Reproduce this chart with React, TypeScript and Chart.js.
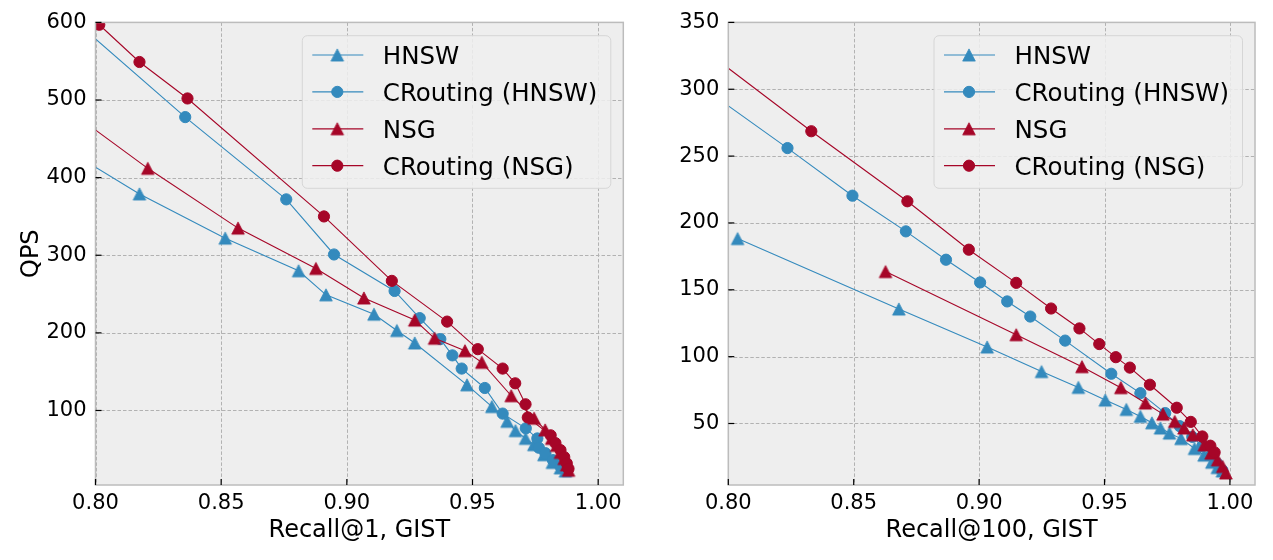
import React, { useEffect, useRef } from 'react';
import { Chart, registerables } from 'chart.js';

Chart.register(...registerables);

const FONT = "'DejaVu Sans', 'Liberation Sans', sans-serif";
const BLUE = '#348ABD';
const RED = '#A60628';

const seriesNames = ['HNSW', 'CRouting (HNSW)', 'NSG', 'CRouting (NSG)'];

// ---- Recall@1, GIST ----
const r1HnswRecall = [0.785, 0.8175, 0.8516, 0.8808, 0.8917, 0.9108, 0.9199, 0.927, 0.9478, 0.9577, 0.9638, 0.9671, 0.9711, 0.9744, 0.9784, 0.9818, 0.985, 0.987];
const r1HnswQps = [443, 379, 322, 280, 249, 224, 203, 187, 133, 105, 86, 74, 64, 56, 43, 33, 26, 22];

const r1CrHnswRecall = [0.79, 0.8357, 0.8759, 0.8949, 0.919, 0.929, 0.9372, 0.942, 0.9457, 0.9549, 0.962, 0.9712, 0.9758, 0.9764, 0.979, 0.982, 0.985];
const r1CrHnswQps = [607, 478, 372, 301, 254, 219, 192, 171, 154, 129, 96, 77, 64, 52, 45, 36, 28];

const r1NsgRecall = [0.79, 0.8208, 0.8567, 0.8877, 0.9068, 0.927, 0.9349, 0.947, 0.9537, 0.9654, 0.9745, 0.9789, 0.9815, 0.9835, 0.985, 0.9865, 0.9875, 0.9882];
const r1NsgQps = [485, 412, 335, 283, 245, 216.5, 193, 177, 162, 119, 90, 75, 64, 55, 46, 38, 30, 23];

const r1CrNsgRecall = [0.8015, 0.8175, 0.8366, 0.8909, 0.9179, 0.9399, 0.9521, 0.962, 0.967, 0.9711, 0.972, 0.9811, 0.983, 0.985, 0.9865, 0.9875, 0.9882];
const r1CrNsgQps = [597, 549, 502, 350, 267, 214.5, 179, 154, 135, 108, 91, 68, 58, 49, 40, 32, 25];

// ---- Recall@100, GIST ----
const r100HnswRecall = [0.8037, 0.868, 0.9032, 0.9249, 0.9396, 0.9503, 0.9587, 0.9643, 0.9689, 0.9723, 0.9759, 0.9805, 0.9859, 0.9897, 0.9928, 0.995, 0.997];
const r100HnswQps = [188.3, 135.6, 107.2, 88.8, 77, 67.5, 60.5, 55.3, 50.5, 46.6, 42.8, 38.7, 31.3, 26.3, 21, 17, 14.5];

const r100CrHnswRecall = [0.79, 0.8236, 0.8495, 0.8708, 0.8868, 0.9004, 0.9112, 0.9204, 0.9343, 0.9527, 0.9643, 0.9742, 0.98, 0.985, 0.989, 0.9925, 0.995, 0.997];
const r100CrHnswQps = [301, 256, 220.4, 193.7, 172.5, 155.5, 141.3, 130, 112, 87.2, 72.7, 57.8, 48, 40, 33, 26, 20, 15];

const r100NsgRecall = [0.8627, 0.9148, 0.941, 0.9565, 0.9663, 0.9733, 0.978, 0.9817, 0.9852, 0.9898, 0.9925, 0.9951, 0.9971, 0.9984];
const r100NsgQps = [163.6, 116.4, 92.5, 76.8, 65.3, 57, 51.5, 46.6, 41.5, 34, 27.8, 22.8, 17.8, 13];

const r100CrNsgRecall = [0.79, 0.8331, 0.8714, 0.8959, 0.9148, 0.9287, 0.94, 0.9479, 0.9545, 0.9601, 0.9681, 0.9788, 0.9844, 0.989, 0.9922, 0.9939];
const r100CrNsgQps = [330, 268.6, 216.2, 180, 155.2, 136, 121.1, 109.4, 99.6, 91.8, 79, 61.8, 51.2, 40.3, 33.4, 28.4];

// ---- axes ----
const recallTicks = [0.8, 0.85, 0.9, 0.95, 1.0];
const qpsTicksR1 = [100, 200, 300, 400, 500, 600];
const qpsTicksR100 = [50, 100, 150, 200, 250, 300, 350];

type Marker = 'tri' | 'circle';
const seriesColors = [BLUE, BLUE, RED, RED];
const seriesMarkers: Marker[] = ['tri', 'circle', 'tri', 'circle'];

const CIRCLE_R = 5.6;

function triangleImage(color: string): HTMLCanvasElement {
  const c = document.createElement('canvas');
  c.width = 18;
  c.height = 18;
  const g = c.getContext('2d')!;
  g.beginPath();
  g.moveTo(9, 9 - 6.1);
  g.lineTo(9 - 6.3, 9 + 6.1);
  g.lineTo(9 + 6.3, 9 + 6.1);
  g.closePath();
  g.fillStyle = color;
  g.fill();
  g.strokeStyle = color;
  g.lineWidth = 0.8;
  g.lineJoin = 'miter';
  g.stroke();
  return c;
}

interface PanelCfg {
  xs: number[][];
  ys: number[][];
  yMax: number;
  yTicks: number[];
  xTitle: string;
  yTitle?: string;
  yAxisWidth: number;
  padRight: number;
}

function makeDecor(cfg: PanelCfg, tris: Record<string, HTMLCanvasElement>) {
  return {
    id: 'panelDecor',
    beforeDatasetsDraw(chart: any) {
      const { ctx, chartArea: a, scales } = chart;
      ctx.save();
      ctx.fillStyle = '#eeeeee';
      ctx.fillRect(a.left, a.top, a.right - a.left, a.bottom - a.top);
      ctx.strokeStyle = '#b2b2b2';
      ctx.lineWidth = 1;
      ctx.setLineDash([3.5, 2]);
      for (const v of recallTicks) {
        const px = Math.round(scales.x.getPixelForValue(v)) + 0.5;
        ctx.beginPath();
        ctx.moveTo(px, a.top);
        ctx.lineTo(px, a.bottom);
        ctx.stroke();
      }
      for (const v of cfg.yTicks) {
        const py = Math.round(scales.y.getPixelForValue(v)) + 0.5;
        ctx.beginPath();
        ctx.moveTo(a.left, py);
        ctx.lineTo(a.right, py);
        ctx.stroke();
      }
      ctx.restore();
    },
    afterDatasetsDraw(chart: any) {
      const { ctx, chartArea: a, scales } = chart;
      ctx.save();
      // frame
      ctx.strokeStyle = '#bcbcbc';
      ctx.lineWidth = 1.5;
      ctx.strokeRect(a.left, a.top, a.right - a.left, a.bottom - a.top);
      // inward tick marks
      ctx.strokeStyle = '#000';
      ctx.lineWidth = 1.2;
      for (const v of recallTicks) {
        const px = scales.x.getPixelForValue(v);
        ctx.beginPath();
        ctx.moveTo(px, a.bottom);
        ctx.lineTo(px, a.bottom - 6);
        ctx.stroke();
      }
      for (const v of cfg.yTicks) {
        const py = scales.y.getPixelForValue(v);
        ctx.beginPath();
        ctx.moveTo(a.left, py);
        ctx.lineTo(a.left + 6, py);
        ctx.stroke();
      }
      // legend
      const boxW = 308.5;
      const boxH = 152.6;
      const bx = a.right - 12.5 - boxW;
      const by = a.top + 13.3;
      const r = 5;
      ctx.beginPath();
      ctx.moveTo(bx + r, by);
      ctx.lineTo(bx + boxW - r, by);
      ctx.arcTo(bx + boxW, by, bx + boxW, by + r, r);
      ctx.lineTo(bx + boxW, by + boxH - r);
      ctx.arcTo(bx + boxW, by + boxH, bx + boxW - r, by + boxH, r);
      ctx.lineTo(bx + r, by + boxH);
      ctx.arcTo(bx, by + boxH, bx, by + boxH - r, r);
      ctx.lineTo(bx, by + r);
      ctx.arcTo(bx, by, bx + r, by, r);
      ctx.closePath();
      ctx.fillStyle = 'rgba(238,238,238,0.85)';
      ctx.fill();
      ctx.strokeStyle = '#d6d6d6';
      ctx.lineWidth = 1;
      ctx.stroke();

      const rowOffsets = [19.3, 56.2, 93.1, 130];
      seriesNames.forEach((name, i) => {
        const ry = by + rowOffsets[i];
        const color = seriesColors[i];
        ctx.strokeStyle = color;
        ctx.lineWidth = 1.2;
        ctx.beginPath();
        ctx.moveTo(bx + 10, ry);
        ctx.lineTo(bx + 61, ry);
        ctx.stroke();
        const mx = bx + 35;
        if (seriesMarkers[i] === 'tri') {
          const img = tris[color];
          ctx.drawImage(img, mx - img.width / 2, ry - img.height / 2);
        } else {
          ctx.beginPath();
          ctx.arc(mx, ry, CIRCLE_R, 0, Math.PI * 2);
          ctx.fillStyle = color;
          ctx.fill();
          ctx.lineWidth = 1;
          ctx.strokeStyle = color;
          ctx.stroke();
        }
        ctx.fillStyle = '#000';
        ctx.font = `24.5px ${FONT}`;
        ctx.textAlign = 'left';
        ctx.textBaseline = 'alphabetic';
        ctx.fillText(name, bx + 80.5, ry + 9);
      });
      ctx.restore();
    },
  };
}

function buildPanel(canvas: HTMLCanvasElement, cfg: PanelCfg): Chart {
  const tris: Record<string, HTMLCanvasElement> = {
    [BLUE]: triangleImage(BLUE),
    [RED]: triangleImage(RED),
  };
  const datasets = seriesNames.map((name, i) => {
    const color = seriesColors[i];
    const isTri = seriesMarkers[i] === 'tri';
    return {
      label: name,
      data: cfg.xs[i].map((x, k) => ({ x, y: cfg.ys[i][k] })),
      showLine: true,
      borderColor: color,
      backgroundColor: color,
      borderWidth: 1.1,
      pointStyle: isTri ? tris[color] : 'circle',
      pointRadius: isTri ? 6 : CIRCLE_R,
      pointBorderWidth: 1,
      pointBackgroundColor: color,
      pointBorderColor: color,
      tension: 0,
      order: 3 - i,
    };
  });

  return new Chart(canvas, {
    type: 'scatter',
    data: { datasets: datasets as any },
    plugins: [makeDecor(cfg, tris)],
    options: {
      responsive: false,
      animation: false,
      events: [],
      layout: { padding: { left: 0, top: 22.4, right: cfg.padRight, bottom: 0 } },
      plugins: {
        legend: { display: false },
        tooltip: { enabled: false },
      },
      scales: {
        x: {
          type: 'linear',
          min: 0.8,
          max: 1.01,
          grid: { display: false, drawTicks: false },
          border: { display: false },
          afterBuildTicks: (s: any) => {
            s.ticks = recallTicks.map((value) => ({ value }));
          },
          afterFit: (s: any) => {
            s.height = 75;
          },
          ticks: {
            color: '#000',
            padding: 6,
            font: { family: FONT, size: 21 },
            maxRotation: 0,
            callback: (v: any) => Number(v).toFixed(2),
          },
          title: {
            display: true,
            text: cfg.xTitle,
            color: '#000',
            font: { family: FONT, size: 24, lineHeight: 1 },
            padding: { top: 0, bottom: 17 },
          },
        },
        y: {
          type: 'linear',
          min: 4,
          max: cfg.yMax,
          grid: { display: false, drawTicks: false },
          border: { display: false },
          afterBuildTicks: (s: any) => {
            s.ticks = cfg.yTicks.map((value) => ({ value }));
          },
          afterFit: (s: any) => {
            s.width = cfg.yAxisWidth;
          },
          ticks: {
            color: '#000',
            padding: 9,
            font: { family: FONT, size: 21 },
            callback: (v: any) => String(v),
          },
          title: {
            display: !!cfg.yTitle,
            text: cfg.yTitle || '',
            color: '#000',
            font: { family: FONT, size: 24, lineHeight: 1 },
            padding: { top: 20, bottom: 0 },
          },
        },
      },
    } as any,
  });
}

export default function App() {
  const leftRef = useRef<HTMLCanvasElement>(null);
  const rightRef = useRef<HTMLCanvasElement>(null);

  useEffect(() => {
    const left = buildPanel(leftRef.current!, {
      xs: [r1HnswRecall, r1CrHnswRecall, r1NsgRecall, r1CrNsgRecall],
      ys: [r1HnswQps, r1CrHnswQps, r1NsgQps, r1CrNsgQps],
      yMax: 600,
      yTicks: qpsTicksR1,
      xTitle: 'Recall@1, GIST',
      yTitle: 'QPS',
      yAxisWidth: 95.5,
      padRight: 640 - 623.3,
    });
    const right = buildPanel(rightRef.current!, {
      xs: [r100HnswRecall, r100CrHnswRecall, r100NsgRecall, r100CrNsgRecall],
      ys: [r100HnswQps, r100CrHnswQps, r100NsgQps, r100CrNsgQps],
      yMax: 350,
      yTicks: qpsTicksR100,
      xTitle: 'Recall@100, GIST',
      yAxisWidth: 728.3 - 640,
      padRight: 633 - (1255 - 640),
    });
    return () => {
      left.destroy();
      right.destroy();
    };
  }, []);

  return (
    <div style={{ position: 'fixed', left: 0, top: 0, width: 1273, height: 560, background: '#fff' }}>
      <canvas
        ref={leftRef}
        width={640}
        height={560}
        style={{ position: 'absolute', left: 0, top: 0, width: 640, height: 560 }}
      />
      <canvas
        ref={rightRef}
        width={633}
        height={560}
        style={{ position: 'absolute', left: 640, top: 0, width: 633, height: 560 }}
      />
    </div>
  );
}
